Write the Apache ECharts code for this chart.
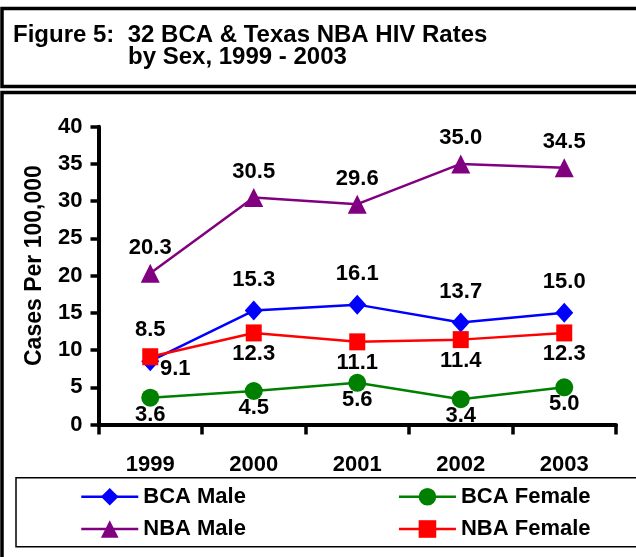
<!DOCTYPE html>
<html><head><meta charset="utf-8">
<script src="https://cdn.jsdelivr.net/npm/echarts/dist/echarts.min.js"></script>
<style>html,body{margin:0;padding:0;background:#fff}#c{width:636px;height:557px}</style>
</head><body><div id="c"></div>
<script>
// ---- data ----
const years = ['1999', '2000', '2001', '2002', '2003'];
const bcaMale = [8.5, 15.3, 16.1, 13.7, 15.0];
const bcaFemale = [3.6, 4.5, 5.6, 3.4, 5.0];
const nbaMale = [20.3, 30.5, 29.6, 35.0, 34.5];
const nbaFemale = [9.1, 12.3, 11.1, 11.4, 12.3];
const yMin = 0, yMax = 40, yStep = 5;
const titleLine1 = 'Figure 5:  32 BCA & Texas NBA HIV Rates';
const titleLine2 = 'by Sex, 1999 - 2003';
const yName = 'Cases Per 100,000';

// ---- styling ----
const FF = '"Liberation Sans", Arial, Helvetica, sans-serif';
const txt = (size) => ({ fontFamily: FF, fontWeight: 'bold', fontSize: size, color: '#000' });
const fmt = p => Number(p.value).toFixed(1);

function mkSeries(name, data, color, symbol, size, pos, dist, special) {
  return {
    name, type: 'line', data: data.map((v, i) => (special && special[i]) ? Object.assign({ value: v }, special[i]) : v),
    symbol, symbolSize: size,
    lineStyle: { color, width: 2.5 },
    itemStyle: { color },
    label: Object.assign({ show: true, position: pos, distance: dist, formatter: fmt }, txt(22)),
    emphasis: { disabled: true },
    animation: false
  };
}

function mkLegend(name, left, top) {
  return {
    data: [name], left, top, padding: 0, itemWidth: 57, itemHeight: 22,
    lineStyle: { width: 2.5 },
    textStyle: txt(22), selectedMode: false
  };
}

const chart = echarts.init(document.getElementById('c'), null, { renderer: 'canvas' });
chart.setOption({
  backgroundColor: '#fff',
  animation: false,
  title: [
    { text: titleLine1, left: 13, top: 23.5, padding: 0, textStyle: txt(24) },
    { text: titleLine2, left: 128, top: 45.5, padding: 0, textStyle: txt(24) }
  ],
  graphic: [
    { type: 'rect', shape: { x: 2, y: 8.5, width: 660, height: 78 }, style: { fill: 'none', stroke: '#000', lineWidth: 3.5 }, silent: true },
    { type: 'rect', shape: { x: 2, y: 92.5, width: 660, height: 500 }, style: { fill: 'none', stroke: '#000', lineWidth: 3.5 }, silent: true },
    { type: 'rect', shape: { x: 16, y: 477.7, width: 660, height: 69 }, style: { fill: 'none', stroke: '#000', lineWidth: 1.5 }, silent: true }
  ],
  legend: [
    mkLegend('BCA Male', 80, 485.7),
    mkLegend('BCA Female', 397.7, 485.7),
    mkLegend('NBA Male', 80, 518),
    mkLegend('NBA Female', 397.7, 518)
  ],
  grid: { left: 98.5, right: 20, top: 126.7, bottom: 132.5, containLabel: false, outerBoundsMode: 'none' },
  xAxis: {
    type: 'category', data: years, boundaryGap: true,
    axisLine: { lineStyle: { color: '#000', width: 4 } },
    axisTick: { show: true, length: 10, lineStyle: { color: '#000', width: 3.5 } },
    axisLabel: Object.assign({ margin: 29 }, txt(22)),
    splitLine: { show: false }
  },
  yAxis: {
    type: 'value', min: yMin, max: yMax, interval: yStep,
    name: yName, nameLocation: 'middle', nameRotate: 90, nameGap: 52,
    nameTextStyle: Object.assign({ padding: [0, 0, 0, 20] }, txt(23)),
    axisLine: { show: true, lineStyle: { color: '#000', width: 4 } },
    axisTick: { show: true, length: 8, lineStyle: { color: '#000', width: 3.5 } },
    axisLabel: Object.assign({ margin: 16 }, txt(22)),
    splitLine: { show: false }
  },
  series: [
    mkSeries('BCA Male', bcaMale, '#0000FF', 'diamond', [18, 20], 'top', 10),
    mkSeries('BCA Female', bcaFemale, '#008000', 'circle', 18, 'bottom', -3),
    mkSeries('NBA Male', nbaMale, '#800080', 'triangle', [19, 19], 'top', 5),
    mkSeries('NBA Female', nbaFemale, '#FF0000', 'rect', [16, 17], 'bottom', 2,
      { 0: { label: { offset: [25, -9] } } })
  ]
});
</script>
</body></html>
